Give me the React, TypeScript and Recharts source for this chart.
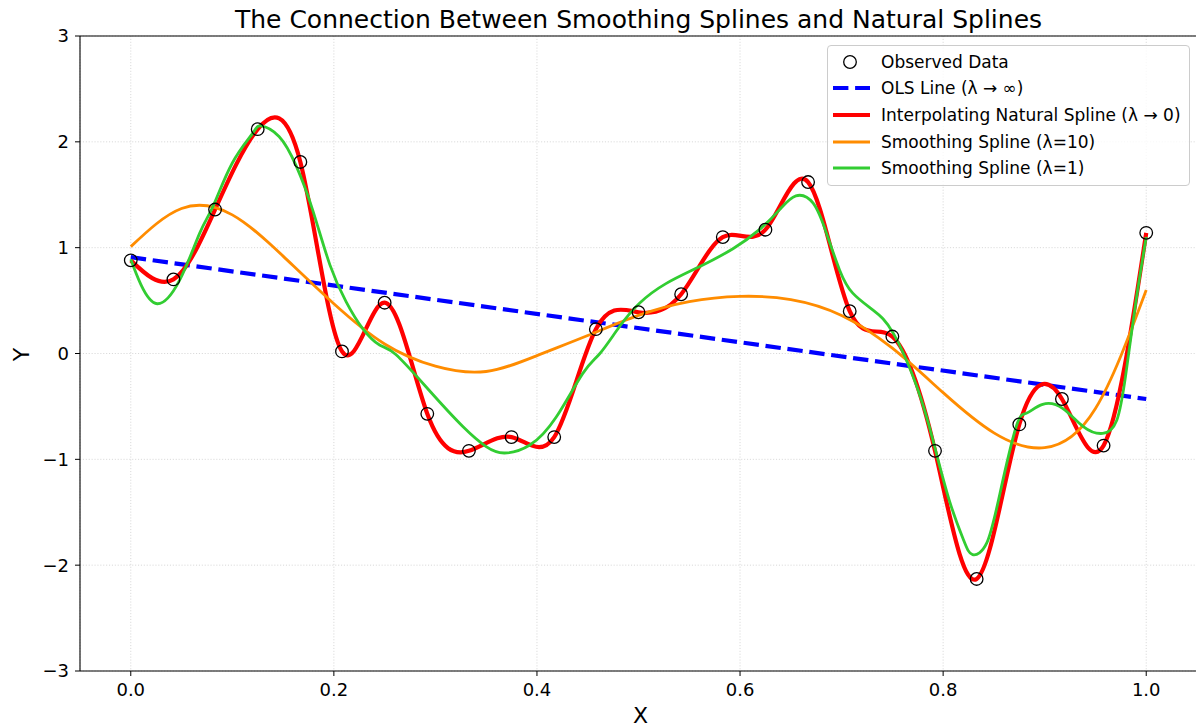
import React from "react";
import {
  ComposedChart,
  Line,
  Scatter,
  XAxis,
  YAxis,
  CartesianGrid,
  ReferenceLine,
  Legend,
  Label,
} from "recharts";

// observed points
const obsX = [0, 0.042, 0.083, 0.125, 0.167, 0.208, 0.25, 0.292, 0.333, 0.375, 0.417, 0.458, 0.5,
  0.542, 0.583, 0.625, 0.667, 0.708, 0.75, 0.792, 0.833, 0.875, 0.917, 0.958, 1.0];
const obsY = [0.88, 0.7, 1.36, 2.12, 1.81, 0.02, 0.48, -0.57, -0.92, -0.79, -0.79, 0.23, 0.39,
  0.56, 1.1, 1.17, 1.62, 0.4, 0.16, -0.92, -2.13, -0.67, -0.43, -0.87, 1.14];

// OLS fit (lambda -> inf)
const olsX = [0, 1.0];
const olsY = [0.91, -0.43];

// smoothing spline, lambda = 10
const smooth10X = [0, 0.05, 0.1, 0.15, 0.2, 0.25, 0.3, 0.35, 0.4, 0.45, 0.5, 0.55, 0.6, 0.65, 0.7,
  0.75, 0.8, 0.85, 0.9, 0.95, 1.0];
const smooth10Y = [1.01, 1.37, 1.31, 0.92, 0.47, 0.09, -0.12, -0.17, -0.02, 0.17, 0.36, 0.49, 0.54,
  0.51, 0.36, 0.05, -0.37, -0.75, -0.89, -0.52, 0.6];

// smoothing spline, lambda = 1
const smooth1X = [0, 0.01, 0.026, 0.048, 0.068, 0.081, 0.1, 0.12, 0.128, 0.146, 0.163, 0.179, 0.196,
  0.212, 0.228, 0.245, 0.261, 0.294, 0.327, 0.35, 0.368, 0.393, 0.419, 0.445, 0.462, 0.481, 0.501,
  0.527, 0.56, 0.593, 0.619, 0.639, 0.655, 0.672, 0.685, 0.698, 0.711, 0.731, 0.751, 0.774, 0.79,
  0.806, 0.82, 0.829, 0.843, 0.856, 0.872, 0.882, 0.898, 0.918, 0.938, 0.957, 0.971, 0.98, 0.99, 1.0];
const smooth1Y = [0.89, 0.65, 0.47, 0.69, 1.14, 1.39, 1.8, 2.08, 2.15, 2.05, 1.77, 1.36, 0.84,
  0.49, 0.24, 0.08, -0.01, -0.35, -0.69, -0.88, -0.94, -0.865, -0.6, -0.19, 0.0, 0.25, 0.475,
  0.66, 0.82, 0.99, 1.17, 1.36, 1.49, 1.42, 1.14, 0.79, 0.57, 0.41, 0.19, -0.31, -0.82,
  -1.385, -1.76, -1.9, -1.79, -1.32, -0.69, -0.565, -0.48, -0.52, -0.69, -0.755, -0.63, -0.19, 0.5, 1.1];

const xTicks = [0, 0.2, 0.4, 0.6, 0.8, 1.0];
const yTicks = [-3, -2, -1, 0, 1, 2, 3];

const legendItems = [
  { label: "Observed Data", color: "#000", kind: "marker" },
  { label: "OLS Line (λ → ∞)", color: "#0000ff", kind: "dash" },
  { label: "Interpolating Natural Spline (λ → 0)", color: "#ff0000", kind: "thick" },
  { label: "Smoothing Spline (λ=10)", color: "#ff8c00", kind: "line" },
  { label: "Smoothing Spline (λ=1)", color: "#32cd32", kind: "line" },
];

const zip = (xs: number[], ys: number[]) => xs.map((x, i) => ({ x, y: ys[i] }));

const observed = zip(obsX, obsY);
const ols = zip(olsX, olsY);
const smooth10 = zip(smooth10X, smooth10Y);
const smooth1 = zip(smooth1X, smooth1Y);

const FONT = "DejaVu Sans, sans-serif";
const fmtY = (v: number) => (v < 0 ? "\u2212" + Math.abs(v) : String(v));

const renderLegend = () => (
  <div
    style={{
      boxSizing: "border-box",
      width: 363,
      height: 141,
      border: "1px solid #cccccc",
      borderRadius: 4,
      background: "rgba(255,255,255,0.8)",
      paddingTop: 2.35,
      fontFamily: FONT,
      fontSize: 17,
      color: "#000",
    }}
  >
    {legendItems.map((it) => (
      <div key={it.label} style={{ display: "flex", alignItems: "center", height: 26.7 }}>
        <svg width={53} height={20} style={{ flex: "none" }}>
          {it.kind === "marker" ? (
            <circle cx={22} cy={10} r={6.3} fill="none" stroke="#000" strokeWidth={1.3} />
          ) : (
            <line
              x1={5}
              x2={42}
              y1={10}
              y2={10}
              stroke={it.color}
              strokeWidth={it.kind === "line" ? 2.8 : 4.2}
              strokeDasharray={it.kind === "dash" ? "15.4 6.7" : undefined}
            />
          )}
        </svg>
        <span style={{ whiteSpace: "nowrap" }}>{it.label}</span>
      </div>
    ))}
  </div>
);

export default function App() {
  return (
    <div
      style={{
        position: "absolute",
        left: 0,
        top: 0,
        width: 1196,
        height: 725,
        overflow: "hidden",
        background: "#fff",
        fontFamily: FONT,
      }}
    >
      <div
        style={{
          position: "absolute",
          left: 80,
          width: 1117,
          top: 5,
          textAlign: "center",
          fontSize: 25,
          lineHeight: "normal",
          color: "#000",
          whiteSpace: "nowrap",
        }}
      >
        The Connection Between Smoothing Splines and Natural Splines
      </div>
      <ComposedChart width={1198} height={725} margin={{ top: 36, right: 1, left: 0, bottom: 0 }}>
        <CartesianGrid stroke="#cfcfcf" strokeDasharray="1.1 1.8" strokeWidth={0.8} />
        <XAxis
          dataKey="x"
          type="number"
          domain={[-0.05, 1.05]}
          ticks={xTicks}
          allowDataOverflow
          height={54}
          tickSize={5}
          tickMargin={7}
          tickFormatter={(v: number) => v.toFixed(1)}
          tick={{ fill: "#000", fontSize: 18, fontFamily: FONT }}
          tickLine={{ stroke: "#000" }}
          axisLine={{ stroke: "#000", strokeWidth: 1.1 }}
        >
          <Label
            content={(p: any) => (
              <text
                x={p.viewBox.x + p.viewBox.width / 2 + 2}
                y={p.viewBox.y + 52}
                textAnchor="middle"
                fontSize={22}
                fontFamily={FONT}
                fill="#000"
              >
                X
              </text>
            )}
          />
        </XAxis>
        <YAxis
          dataKey="y"
          type="number"
          domain={[-3, 3]}
          ticks={yTicks}
          allowDataOverflow
          width={80}
          tickSize={5}
          tickMargin={6}
          tickFormatter={fmtY}
          tick={{ fill: "#000", fontSize: 18, fontFamily: FONT }}
          tickLine={{ stroke: "#000" }}
          axisLine={{ stroke: "#000", strokeWidth: 1.1 }}
        >
          <Label
            content={(p: any) => {
              const cx = p.viewBox.x + 29;
              const cy = p.viewBox.y + p.viewBox.height / 2 + 1;
              return (
                <text
                  x={cx}
                  y={cy}
                  transform={`rotate(-90 ${cx} ${cy})`}
                  textAnchor="middle"
                  fontSize={22}
                  fontFamily={FONT}
                  fill="#000"
                >
                  Y
                </text>
              );
            }}
          />
        </YAxis>
        <ReferenceLine y={3} stroke="#000" strokeWidth={1.1} />
        <Line
          data={ols}
          dataKey="y"
          type="linear"
          stroke="#0000ff"
          strokeWidth={4.2}
          strokeDasharray="15.4 6.7"
          dot={false}
          activeDot={false}
          isAnimationActive={false}
        />
        <Line
          data={observed}
          dataKey="y"
          type="natural"
          stroke="#ff0000"
          strokeWidth={4.2}
          dot={false}
          activeDot={false}
          isAnimationActive={false}
        />
        <Line
          data={smooth10}
          dataKey="y"
          type="natural"
          stroke="#ff8c00"
          strokeWidth={2.8}
          dot={false}
          activeDot={false}
          isAnimationActive={false}
        />
        <Line
          data={smooth1}
          dataKey="y"
          type="natural"
          stroke="#32cd32"
          strokeWidth={2.8}
          dot={false}
          activeDot={false}
          isAnimationActive={false}
        />
        <Scatter
          data={observed}
          dataKey="y"
          isAnimationActive={false}
          shape={(p: any) => (
            <circle cx={p.cx} cy={p.cy} r={6.3} fill="none" stroke="#000" strokeWidth={1.3} />
          )}
        />
        <Legend
          layout="horizontal"
          verticalAlign="middle"
          align="center"
          wrapperStyle={{ left: 827, top: 45, width: 363, height: 141 }}
          content={renderLegend}
        />
      </ComposedChart>
    </div>
  );
}
